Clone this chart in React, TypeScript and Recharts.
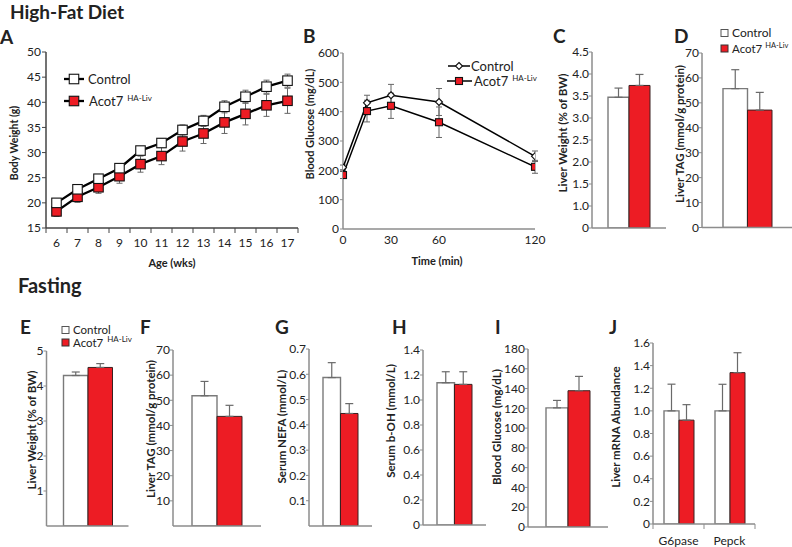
import React from 'react';
import { LineChart, Line, BarChart, Bar, XAxis, YAxis, ErrorBar } from 'recharts';

const FONT = 'Lato, "Open Sans", Arial, sans-serif';
const RED = '#ed1c24';
const AXIS = '#8d8d8d';
const AXIS_DARK = '#444';
const INK = '#222';
const TICK_SIZE = 12;

// A - body weight on high-fat diet
const weeks = [6, 7, 8, 9, 10, 11, 12, 13, 14, 15, 16, 17];
const bwControl = [20.0, 22.7, 24.8, 26.9, 30.4, 31.9, 34.5, 36.3, 39.1, 41.1, 43.1, 44.3];
const bwControlErr = [0.7, 0.6, 0.7, 0.7, 0.8, 0.9, 1.0, 1.1, 1.2, 1.3, 1.3, 1.3];
const bwAcot = [18.3, 21.2, 23.1, 25.3, 27.7, 29.3, 32.2, 33.8, 36.0, 37.7, 39.4, 40.3];
const bwAcotErr = [1.0, 1.1, 1.2, 1.4, 1.6, 1.7, 1.9, 2.0, 2.2, 2.2, 2.2, 2.5];
const bwTicks = [15, 20, 25, 30, 35, 40, 45, 50];

// B - glucose tolerance
const gttTimes = [0, 15, 30, 60, 120];
const gttControl = [210, 430, 456, 433, 248];
const gttControlErr = [8, 26, 37, 46, 18];
const gttAcot = [184, 402, 420, 364, 212];
const gttAcotErr = [12, 37, 43, 52, 22];
const gttTimeTicks = [0, 30, 60, 120];
const gttTicks = [0, 100, 200, 300, 400, 500, 600];

// C, D - high-fat diet liver
const hfdLiverWt = [3.47, 3.74];
const hfdLiverWtErr = [0.21, 0.25];
const hfdLiverWtTicks = [0.5, 1, 1.5, 2, 2.5, 3, 3.5, 4, 4.5];
const hfdLiverTag = [55.7, 47.1];
const hfdLiverTagErr = [7.6, 7.1];
const hfdLiverTagTicks = [0, 10, 20, 30, 40, 50, 60, 70];

// E - J - fasting
const fastLiverWt = [4.3, 4.53];
const fastLiverWtErr = [0.1, 0.11];
const fastLiverWtTicks = [1, 2, 3, 4, 5];
const fastLiverTag = [51.8, 43.6];
const fastLiverTagErr = [5.7, 4.4];
const fastLiverTagTicks = [10, 20, 30, 40, 50, 60, 70];
const fastNefa = [0.587, 0.445];
const fastNefaErr = [0.059, 0.039];
const fastNefaTicks = [0.1, 0.2, 0.3, 0.4, 0.5, 0.6, 0.7];
const fastBoh = [1.138, 1.125];
const fastBohErr = [0.088, 0.101];
const fastBohTicks = [0, 0.2, 0.4, 0.6, 0.8, 1.0, 1.2, 1.4];
const fastGlucose = [120.5, 137.8];
const fastGlucoseErr = [7.5, 14.5];
const fastGlucoseTicks = [0, 20, 40, 60, 80, 100, 120, 140, 160, 180];
const genes = ['G6pase', 'Pepck'];
const mrnaControl = [1.0, 1.0];
const mrnaControlErr = [0.236, 0.235];
const mrnaAcot = [0.918, 1.338];
const mrnaAcotErr = [0.137, 0.176];
const mrnaTicks = [0, 0.2, 0.4, 0.6, 0.8, 1.0, 1.2, 1.4, 1.6];

const fmt1 = (v: number) => (v === 0 ? '0' : v.toFixed(1));
const fmtInt = (v: number) => String(v);

const AxisTitle = ({ x, y, text, rotate, size = 11.5 }: any) => (
  <text
    x={x}
    y={y}
    transform={rotate ? `rotate(-90 ${x} ${y})` : undefined}
    textAnchor="middle"
    dominantBaseline="central"
    fontFamily={FONT}
    fontWeight={700}
    fontSize={size}
    fill={INK}
  >
    {text}
  </text>
);

const squareDot = (fill: string, size: number) => (props: any) => {
  const { cx, cy, index } = props;
  if (cx == null || cy == null) return <g key={`s-${index}`} />;
  return (
    <rect key={`s-${index}`} x={cx - size / 2} y={cy - size / 2} width={size} height={size}
      fill={fill} stroke="#111" strokeWidth={1.1} />
  );
};

const diamondDot = (r: number) => (props: any) => {
  const { cx, cy, index } = props;
  if (cx == null || cy == null) return <g key={`d-${index}`} />;
  return (
    <path key={`d-${index}`} d={`M${cx},${cy - r}L${cx + r},${cy}L${cx},${cy + r}L${cx - r},${cy}Z`}
      fill="#fff" stroke="#111" strokeWidth={1.1} />
  );
};

function BodyWeightPanel() {
  const px = 46, py = 52, pw = 252, ph = 176;
  const T = 10, B = 46, R = 4;
  const left = 0, top = py - T;
  const data = weeks.map((w, i) => ({ week: w, control: bwControl[i], cErr: bwControlErr[i], acot: bwAcot[i], aErr: bwAcotErr[i] }));
  const edges = [...weeks.map((w) => w - 0.5), weeks[weeks.length - 1] + 0.5];
  const half = pw / weeks.length / 2;
  const base = T + ph;
  const WeekTick = (p: any) => {
    const v = p.payload.value + 0.5;
    if (v > weeks[weeks.length - 1]) return <g />;
    return (
      <text x={p.x + half} y={base + 14} dominantBaseline="central" textAnchor="middle"
        fontFamily={FONT} fontSize={TICK_SIZE} fill={INK}>{v}</text>
    );
  };
  return (
    <div style={{ position: 'absolute', left, top }}>
      <LineChart width={px - left + pw + R} height={T + ph + B} data={data}
        margin={{ top: T, right: R, bottom: 0, left: 0 }}>
        <XAxis type="number" dataKey="week" domain={[edges[0], edges[edges.length - 1]]} ticks={edges}
          interval={0} allowDataOverflow height={B} axisLine={{ stroke: AXIS_DARK, strokeWidth: 1.5 }}
          tickLine={{ stroke: AXIS_DARK }} tickSize={5} tick={WeekTick}
          label={() => <AxisTitle x={px + pw / 2 - left} y={262 - top} text="Age (wks)" size={11} />} />
        <YAxis type="number" width={px - left} domain={[15, 50]} ticks={bwTicks} interval={0} allowDataOverflow
          tickSize={4} tickMargin={1} tickLine={{ stroke: AXIS_DARK }} axisLine={{ stroke: AXIS_DARK, strokeWidth: 1.5 }}
          tick={{ fontSize: TICK_SIZE, fill: INK, fontFamily: FONT }}
          label={() => <AxisTitle x={14 - left} y={143 - top} text="Body Weight (g)" rotate size={10.5} />} />
        <Line dataKey="acot" stroke="#000" strokeWidth={2.3} dot={squareDot(RED, 9.5)} isAnimationActive={false}>
          <ErrorBar dataKey="aErr" direction="y" width={3} stroke="#666" strokeWidth={1} />
        </Line>
        <Line dataKey="control" stroke="#000" strokeWidth={2.3} dot={squareDot('#fff', 9.5)} isAnimationActive={false}>
          <ErrorBar dataKey="cErr" direction="y" width={3} stroke="#666" strokeWidth={1} />
        </Line>
      </LineChart>
    </div>
  );
}

function GlucosePanel() {
  const px = 343, py = 53, pw = 192, ph = 176;
  const T = 10, B = 46, R = 12;
  const left = 300, top = py - T;
  const data = gttTimes.map((t, i) => ({ t, control: gttControl[i], cErr: gttControlErr[i], acot: gttAcot[i], aErr: gttAcotErr[i] }));
  return (
    <div style={{ position: 'absolute', left, top }}>
      <LineChart width={px - left + pw + R} height={T + ph + B} data={data}
        margin={{ top: T, right: R, bottom: 0, left: 0 }}>
        <XAxis type="number" dataKey="t" domain={[0, 120]} ticks={gttTimeTicks} interval={0} allowDataOverflow
          height={B} axisLine={{ stroke: AXIS, strokeWidth: 1.5 }} tickLine={false} tickMargin={0}
          tick={{ fontSize: TICK_SIZE, fill: INK, fontFamily: FONT }}
          label={() => <AxisTitle x={437 - left} y={260 - top} text="Time (min)" size={11} />} />
        <YAxis type="number" width={px - left} domain={[0, 600]} ticks={gttTicks} interval={0} allowDataOverflow
          tickSize={3} tickMargin={1} tickLine={{ stroke: AXIS }} axisLine={{ stroke: AXIS, strokeWidth: 1.5 }}
          tick={{ fontSize: TICK_SIZE, fill: INK, fontFamily: FONT }}
          label={() => <AxisTitle x={309 - left} y={124 - top} text="Blood Glucose (mg/dL)" rotate size={11} />} />
        <Line dataKey="acot" stroke="#000" strokeWidth={1.5} dot={squareDot(RED, 7)} isAnimationActive={false}>
          <ErrorBar dataKey="aErr" direction="y" width={3} stroke="#666" strokeWidth={1} />
        </Line>
        <Line dataKey="control" stroke="#000" strokeWidth={1.5} dot={diamondDot(3.5)} isAnimationActive={false}>
          <ErrorBar dataKey="cErr" direction="y" width={3} stroke="#666" strokeWidth={1} />
        </Line>
      </LineChart>
    </div>
  );
}

interface BarPanelProps {
  px: number; py: number; pw: number; ph: number;
  labelX: number; labelY: number; title: string;
  domain: [number, number]; ticks: number[]; fmt: (v: number) => string;
  cats: string[]; control: number[]; controlErr: number[]; acot: number[]; acotErr: number[];
  barSize: number; catLabels?: boolean;
}

function BarPanel(props: BarPanelProps) {
  const { px, py, pw, ph, labelX, labelY, title, domain, ticks, fmt, cats, control, controlErr, acot, acotErr, barSize, catLabels } = props;
  const T = 10, B = 28;
  const left = labelX - 10;
  const top = py - T;
  const yw = px - left;
  const R = Math.max(0, Math.min(4, 792 - (px + pw)));
  const base = T + ph;
  const band = pw / cats.length;
  const data = cats.map((c, i) => ({
    name: c, control: control[i], cErr: [0, controlErr[i]], acot: acot[i], aErr: [0, acotErr[i]],
  }));
  const CatTick = (p: any) => (
    <g>
      <line x1={p.x - band / 2} y1={base} x2={p.x - band / 2} y2={base + 5} stroke={AXIS} />
      {p.index === cats.length - 1 && (
        <line x1={p.x + band / 2} y1={base} x2={p.x + band / 2} y2={base + 5} stroke={AXIS} />
      )}
      <text x={p.x} y={base + 16} dominantBaseline="central" textAnchor="middle"
        fontFamily={FONT} fontSize={TICK_SIZE} fill={INK}>{p.payload.value}</text>
    </g>
  );
  return (
    <div style={{ position: 'absolute', left, top }}>
      <BarChart width={yw + pw + R} height={T + ph + B} data={data}
        margin={{ top: T, right: R, bottom: 0, left: 0 }} barGap={0}>
        <XAxis dataKey="name" height={B} interval={0} axisLine={{ stroke: AXIS, strokeWidth: 1.5 }}
          tickLine={false} tick={catLabels ? CatTick : false} />
        <YAxis type="number" width={yw} domain={domain} ticks={ticks} interval={0} allowDataOverflow
          tickSize={3} tickMargin={0} tickLine={{ stroke: AXIS }} axisLine={{ stroke: AXIS, strokeWidth: 1.5 }}
          tick={{ fontSize: TICK_SIZE, fill: INK, fontFamily: FONT }} tickFormatter={fmt}
          label={() => <AxisTitle x={labelX - left} y={labelY - top} text={title} rotate />} />
        <Bar dataKey="control" fill="#fff" stroke="#7a7a7a" strokeWidth={1.4} barSize={barSize} isAnimationActive={false}>
          <ErrorBar dataKey="cErr" width={4} stroke="#6a6a6a" strokeWidth={1.2} />
        </Bar>
        <Bar dataKey="acot" fill={RED} stroke="#3a2020" strokeWidth={1} barSize={barSize} isAnimationActive={false}>
          <ErrorBar dataKey="aErr" width={4} stroke="#6a6a6a" strokeWidth={1.2} />
        </Bar>
      </BarChart>
    </div>
  );
}

const txt = { fontFamily: FONT, fill: INK } as const;

const AcotLabel = ({ x, y, size = 13, sup = 8, gap = 4 }: any) => (
  <text x={x} y={y} {...txt} fontSize={size}>
    Acot7
    <tspan dx={gap} dy={-5} fontSize={sup}>HA-Liv</tspan>
  </text>
);

function Overlay() {
  return (
    <svg width={792} height={547} style={{ position: 'absolute', left: 0, top: 0, pointerEvents: 'none' }}>
      <text x={10} y={19} {...txt} fontSize={19} fontWeight={700}>High-Fat Diet</text>
      <text x={18} y={293} {...txt} fontSize={20} fontWeight={700}>Fasting</text>
      {[
        ['A', 0, 44], ['B', 303, 43], ['C', 553, 43], ['D', 674, 43],
        ['E', 20, 334], ['F', 140, 334], ['G', 275, 334], ['H', 392, 334], ['I', 495, 334], ['J', 609, 334],
      ].map(([l, x, y]) => (
        <text key={l as string} x={x as number} y={y as number} {...txt} fontSize={19} fontWeight={700}>{l}</text>
      ))}

      {/* A legend */}
      <line x1={64} y1={79} x2={84} y2={79} stroke="#000" strokeWidth={2.3} />
      <rect x={69.25} y={74.25} width={9.5} height={9.5} fill="#fff" stroke="#111" strokeWidth={1.1} />
      <text x={88} y={83.5} {...txt} fontSize={13}>Control</text>
      <line x1={64} y1={101} x2={84} y2={101} stroke="#000" strokeWidth={2.3} />
      <rect x={69.25} y={96.25} width={9.5} height={9.5} fill={RED} stroke="#111" strokeWidth={1.1} />
      <AcotLabel x={89} y={105.5} />

      {/* B legend */}
      <line x1={448} y1={66} x2={470} y2={66} stroke="#000" strokeWidth={1.5} />
      <path d="M459,62.5L462.5,66L459,69.5L455.5,66Z" fill="#fff" stroke="#111" strokeWidth={1.1} />
      <text x={471} y={70.5} {...txt} fontSize={13}>Control</text>
      <line x1={447} y1={81} x2={472} y2={81} stroke="#000" strokeWidth={1.5} />
      <rect x={455.5} y={77.5} width={7} height={7} fill={RED} stroke="#111" strokeWidth={1.1} />
      <AcotLabel x={474} y={85.5} />

      {/* D legend */}
      <rect x={721} y={29.5} width={7} height={7} fill="#fff" stroke="#555" strokeWidth={1} />
      <text x={732} y={37} {...txt} fontSize={12}>Control</text>
      <rect x={721} y={45} width={7} height={7} fill={RED} stroke="#333" strokeWidth={1} />
      <AcotLabel x={732} y={52.5} size={11.5} sup={7.5} gap={3} />

      {/* E legend */}
      <rect x={62} y={326.5} width={7} height={7} fill="#fff" stroke="#555" strokeWidth={1} />
      <text x={73} y={334} {...txt} fontSize={11.5}>Control</text>
      <rect x={62} y={339} width={7} height={7} fill={RED} stroke="#333" strokeWidth={1} />
      <AcotLabel x={73} y={346.5} size={11.5} />
    </svg>
  );
}

export default function App() {
  return (
    <div style={{ position: 'absolute', left: 0, top: 0, width: 792, height: 547, background: '#fff', overflow: 'hidden' }}>
      <BodyWeightPanel />
      <GlucosePanel />
      <BarPanel px={592} py={52} pw={74} ph={176} labelX={562} labelY={133} title="Liver Weight (% of BW)"
        domain={[0.5, 4.5]} ticks={hfdLiverWtTicks} fmt={(v) => (v === 0.5 ? '0' : v.toFixed(1))}
        cats={['']} control={[hfdLiverWt[0]]} controlErr={[hfdLiverWtErr[0]]} acot={[hfdLiverWt[1]]} acotErr={[hfdLiverWtErr[1]]}
        barSize={21} />
      <BarPanel px={702} py={53} pw={90} ph={174.5} labelX={679} labelY={134} title="Liver TAG (mmol/g protein)"
        domain={[0, 70]} ticks={hfdLiverTagTicks} fmt={fmtInt}
        cats={['']} control={[hfdLiverTag[0]]} controlErr={[hfdLiverTagErr[0]]} acot={[hfdLiverTag[1]]} acotErr={[hfdLiverTagErr[1]]}
        barSize={24.5} />
      <BarPanel px={46} py={351} pw={82} ph={175} labelX={30.5} labelY={430} title="Liver Weight (% of BW)"
        domain={[0, 5]} ticks={fastLiverWtTicks} fmt={fmtInt}
        cats={['']} control={[fastLiverWt[0]]} controlErr={[fastLiverWtErr[0]]} acot={[fastLiverWt[1]]} acotErr={[fastLiverWtErr[1]]}
        barSize={24.5} />
      <BarPanel px={173} py={350} pw={88} ph={176} labelX={150} labelY={429} title="Liver TAG (mmol/g protein)"
        domain={[0, 70]} ticks={fastLiverTagTicks} fmt={fmtInt}
        cats={['']} control={[fastLiverTag[0]]} controlErr={[fastLiverTagErr[0]]} acot={[fastLiverTag[1]]} acotErr={[fastLiverTagErr[1]]}
        barSize={25} />
      <BarPanel px={309} py={349.3} pw={63} ph={177} labelX={282} labelY={427} title="Serum NEFA (mmol/L)"
        domain={[0, 0.7]} ticks={fastNefaTicks} fmt={fmt1}
        cats={['']} control={[fastNefa[0]]} controlErr={[fastNefaErr[0]]} acot={[fastNefa[1]]} acotErr={[fastNefaErr[1]]}
        barSize={17.5} />
      <BarPanel px={423} py={350} pw={63} ph={175} labelX={390} labelY={421} title="Serum b-OH (mmol/L)"
        domain={[0, 1.4]} ticks={fastBohTicks} fmt={fmt1}
        cats={['']} control={[fastBoh[0]]} controlErr={[fastBohErr[0]]} acot={[fastBoh[1]]} acotErr={[fastBohErr[1]]}
        barSize={17.5} />
      <BarPanel px={528} py={349} pw={80} ph={178} labelX={496} labelY={427} title="Blood Glucose (mg/dL)"
        domain={[0, 180]} ticks={fastGlucoseTicks} fmt={fmtInt}
        cats={['']} control={[fastGlucose[0]]} controlErr={[fastGlucoseErr[0]]} acot={[fastGlucose[1]]} acotErr={[fastGlucoseErr[1]]}
        barSize={22} />
      <BarPanel px={653} py={343} pw={102} ph={181} labelX={615} labelY={427} title="Liver mRNA Abundance"
        domain={[0, 1.6]} ticks={mrnaTicks} fmt={fmt1}
        cats={genes} control={mrnaControl} controlErr={mrnaControlErr} acot={mrnaAcot} acotErr={mrnaAcotErr}
        barSize={15} catLabels />
      <Overlay />
    </div>
  );
}
